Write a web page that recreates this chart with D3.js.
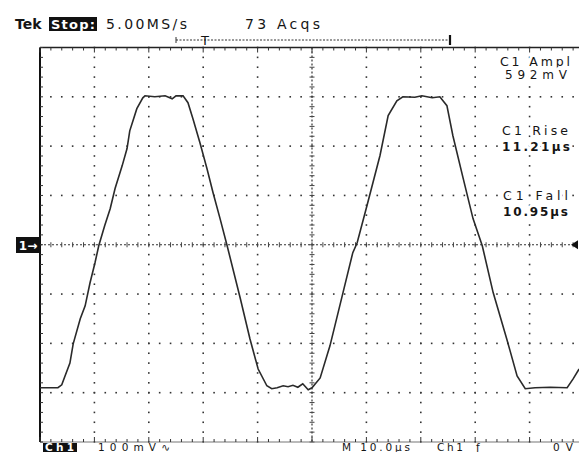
<!DOCTYPE html>
<html>
<head>
<meta charset="utf-8">
<script src="https://cdn.jsdelivr.net/npm/d3@7"></script>
<style>
  body { margin: 0; background: #fff; }
  svg { display: block; }
  text { font-family: "DejaVu Sans", sans-serif; fill: #151515; }
  .halo { stroke: #fff; stroke-width: 6; paint-order: stroke; stroke-linejoin: round; }
</style>
</head>
<body>
<svg id="scope"></svg>
<script>
// ch1 trace (time in µs from left edge, level in mV from marker)
const timeUs = [0, 3.3, 4.0, 4.6, 5.5, 6.1, 7.4, 8.3, 9.2, 10.1,
  10.8, 11.9, 12.9, 13.8, 15.1, 16.0, 16.5, 17.8, 18.9, 19.3,
  21.1, 23.0, 24.3, 25.0, 26.3, 27.2, 28.1, 29.4, 30.7, 31.8,
  33.1, 34.4, 36.8, 38.6, 40.1, 41.7, 42.6, 43.6, 44.7, 45.6,
  46.5, 47.4, 48.3, 49.3, 50.0, 51.5, 53.3, 55.7, 57.5, 58.3,
  60.1, 62.5, 64.0, 65.6, 66.7, 68.9, 70.2, 72.1, 73.5, 74.8,
  75.9, 77.8, 79.6, 81.3, 83.3, 85.8, 87.7, 89.2, 91.0, 93.8,
  96.9, 98.0, 99.1]
const ch1mV = [-290, -290, -284, -266, -240, -201, -150, -124, -77, -37,
  -2, 39, 73, 114, 160, 195, 231, 276, 298, 302,
  300, 302, 296, 302, 302, 288, 256, 207, 154, 106,
  53, -2, -108, -191, -252, -286, -292, -290, -286, -288,
  -285, -289, -282, -294, -290, -270, -205, -97, -16, 4,
  79, 181, 262, 292, 300, 299, 302, 298, 300, 282,
  221, 134, 53, -2, -97, -191, -266, -292, -290, -289,
  -290, -272, -252]

const readoutNames = ["C1 Ampl", "C1 Rise", "C1 Fall"]
const readoutValues = ["592mV", "11.21µs", "10.95µs"]
const sampleRate = "5.00MS/s"
const acqs = "73 Acqs"
const voltsPerDiv = "100mV∿"
const timePerDiv = "M 10.0µs"

const width = 579, height = 452

const svg = d3.select("#scope")
  .attr("width", width)
  .attr("height", height)

const x = d3.scaleLinear().domain([0, 100]).range([40, 584])
const y = d3.scaleLinear().domain([-400, 400]).range([442, 47.5])

const majorX = x.ticks(10), minorX = x.ticks(50)
const majorY = y.ticks(8), minorY = y.ticks(40)

const grid = svg.append("g")

// dotted graticule
majorX.filter(d => d > 0 && d < 100 && d != 50).forEach(gx => {
  grid.selectAll(null).data(minorY).enter().append("rect")
    .attr("x", x(gx) - 0.8).attr("y", d => y(d) - 0.8)
    .attr("width", 1.6).attr("height", 1.6).attr("fill", "#333")
})
majorY.filter(d => d > -400 && d < 400 && d != 0).forEach(gy => {
  grid.selectAll(null).data(minorX).enter().append("rect")
    .attr("x", d => x(d) - 0.8).attr("y", y(gy) - 0.8)
    .attr("width", 1.6).attr("height", 1.6).attr("fill", "#333")
})

// centre cross with minor ticks
grid.append("line")
  .attr("x1", x(0)).attr("x2", x(100)).attr("y1", y(0)).attr("y2", y(0))
  .attr("stroke", "#333").attr("stroke-width", 1.2).attr("stroke-dasharray", "2,2")
grid.append("line")
  .attr("x1", x(50)).attr("x2", x(50)).attr("y1", y(400)).attr("y2", y(-400))
  .attr("stroke", "#333").attr("stroke-width", 1.2).attr("stroke-dasharray", "2,2")
grid.selectAll(null).data(minorX).enter().append("line")
  .attr("x1", d => x(d)).attr("x2", d => x(d))
  .attr("y1", y(0) - 2.5).attr("y2", y(0) + 2.5)
  .attr("stroke", "#444").attr("stroke-width", 1)
grid.selectAll(null).data(minorY).enter().append("line")
  .attr("x1", x(50) - 2.5).attr("x2", x(50) + 2.5)
  .attr("y1", d => y(d)).attr("y2", d => y(d))
  .attr("stroke", "#444").attr("stroke-width", 1)

// frame + edge ticks
grid.append("line")
  .attr("x1", x(0)).attr("x2", width).attr("y1", y(400)).attr("y2", y(400))
  .attr("stroke", "#222").attr("stroke-width", 1.5)
grid.append("line")
  .attr("x1", x(0)).attr("x2", width).attr("y1", y(-400)).attr("y2", y(-400))
  .attr("stroke", "#777").attr("stroke-width", 1.2)
grid.append("line")
  .attr("x1", x(0)).attr("x2", x(0)).attr("y1", y(400)).attr("y2", y(-400))
  .attr("stroke", "#111").attr("stroke-width", 2)
grid.selectAll(null).data(minorX).enter().append("line")
  .attr("x1", d => x(d)).attr("x2", d => x(d))
  .attr("y1", y(400)).attr("y2", d => y(400) + (d % 10 == 0 ? 5 : 3))
  .attr("stroke", "#333").attr("stroke-width", 1)
grid.selectAll(null).data(minorX).enter().append("line")
  .attr("x1", d => x(d)).attr("x2", d => x(d))
  .attr("y1", y(-400)).attr("y2", d => y(-400) - (d % 10 == 0 ? 5 : 3))
  .attr("stroke", "#333").attr("stroke-width", 1)
grid.selectAll(null).data(minorY).enter().append("line")
  .attr("x1", x(0)).attr("x2", x(0) + 3)
  .attr("y1", d => y(d)).attr("y2", d => y(d))
  .attr("stroke", "#333").attr("stroke-width", 1)

// waveform
const line = d3.line()
  .x((d, i) => x(timeUs[i]))
  .y(d => y(d))
svg.append("path")
  .datum(ch1mV)
  .attr("d", line)
  .attr("fill", "none")
  .attr("stroke", "#2a2a2a")
  .attr("stroke-width", 1.6)

// stretched text helper, the scope font is wide
const label = (tx, ty, str, size, len) => {
  const t = svg.append("text").attr("x", tx).attr("y", ty).attr("font-size", size).text(str)
  if (len) t.attr("textLength", len).attr("lengthAdjust", "spacing")
  return t
}

// measurement readouts (white halo hides the graticule dots behind them)
const roY = [[66, 79], [135, 151], [200, 216]]
const roNameX = [[500, 70], [502, 66], [503, 65]]
const roValX = [[505, 62], [502, 68], [503, 65]]
readoutNames.forEach((n, i) => {
  label(roNameX[i][0], roY[i][0], n, 12.5, roNameX[i][1]).attr("class", "halo")
  label(roValX[i][0], roY[i][1], readoutValues[i], 12, roValX[i][1]).attr("class", "halo")
    .attr("font-weight", i > 0 ? "bold" : null)
})

// header
label(15, 29, "Tek", 14).attr("font-weight", "bold")
svg.append("rect").attr("x", 49).attr("y", 17).attr("width", 48).attr("height", 14).attr("fill", "#111")
label(51, 29, "Stop:", 13, 44).attr("font-weight", "bold").style("fill", "#fff")
label(106, 29, sampleRate, 14, 81)
label(245, 29, acqs, 14, 75)

// record bar with trigger point
svg.append("line").attr("x1", 176).attr("x2", 450).attr("y1", 40).attr("y2", 40)
  .attr("stroke", "#333").attr("stroke-width", 1).attr("stroke-dasharray", "2,1.5")
svg.append("line").attr("x1", 176).attr("x2", 176).attr("y1", 37).attr("y2", 43)
  .attr("stroke", "#333").attr("stroke-width", 1)
svg.append("line").attr("x1", 450).attr("x2", 450).attr("y1", 35).attr("y2", 45)
  .attr("stroke", "#111").attr("stroke-width", 2.2)
svg.append("text").attr("x", 205).attr("y", 45).attr("font-size", 13)
  .attr("text-anchor", "middle").text("T")

// ground marker + trigger level
svg.append("rect").attr("x", 16).attr("y", 237).attr("width", 24).attr("height", 16).attr("fill", "#111")
svg.append("text").attr("x", 28).attr("y", 250).attr("font-size", 12)
  .attr("font-weight", "bold").attr("text-anchor", "middle").style("fill", "#fff").text("1→")
svg.append("path")
  .attr("d", `M${width - 8},${y(0)} l7,-4.5 v9 z`)
  .attr("fill", "#111")

// footer (sits right at the bottom edge like the screenshot)
svg.append("rect").attr("x", 43).attr("y", 443).attr("width", 34).attr("height", 9).attr("fill", "#111")
label(45, 450.5, "Ch1", 10.5, 29).attr("font-weight", "bold").style("fill", "#fff")
label(98, 450.5, voltsPerDiv, 10.5, 72)
label(342, 450.5, timePerDiv, 10.5, 68)
label(437, 450.5, "Ch1", 10.5, 26)
label(476, 450.5, "ƒ", 10.5)
label(553, 450.5, "0 V", 10.5, 20)
</script>
</body>
</html>
